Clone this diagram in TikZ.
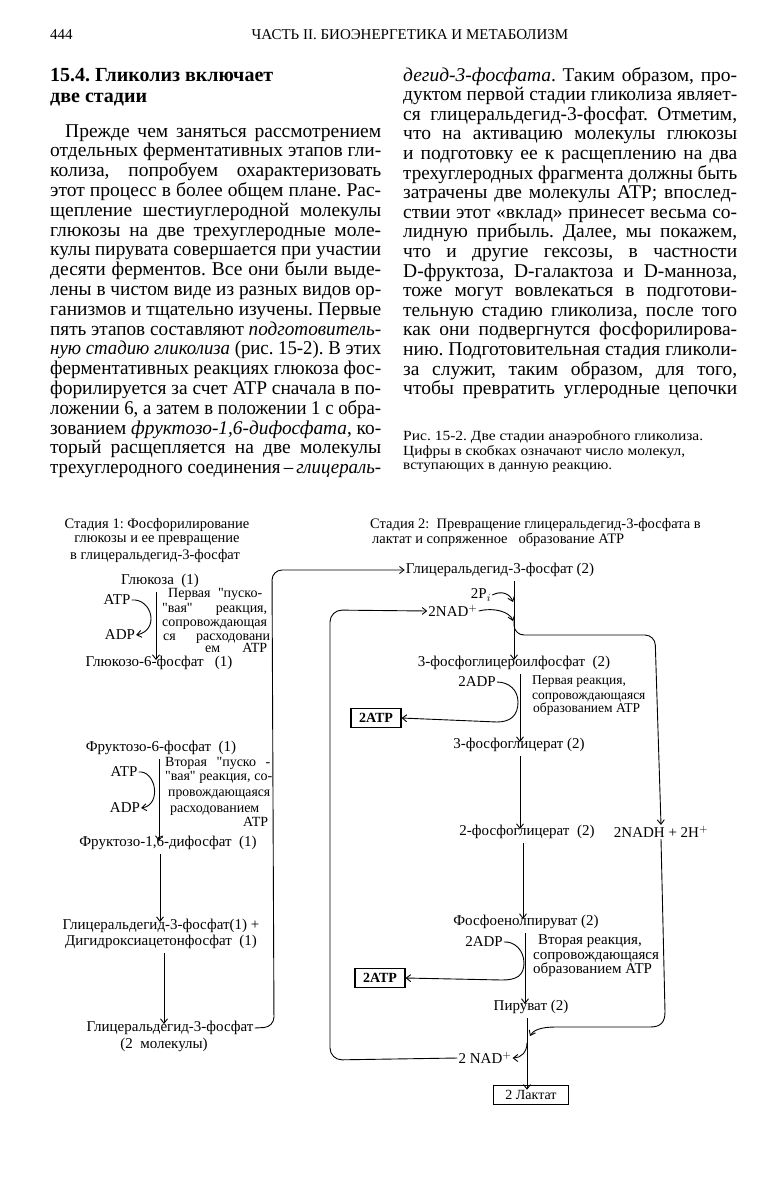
\documentclass[tikz,border=0pt]{standalone}
\usepackage{fontspec}
\setmainfont{Liberation Serif}
\usepackage{graphicx}
\usetikzlibrary{arrows.meta}
\frenchspacing
\newlength\jlw
\newcommand\jline[2]{\settowidth\jlw{#2}\ifdim\jlw>#1\relax\resizebox{#1}{\height}{#2}\else\makebox[#1][s]{#2}\fi}
\newcommand\q{\textquotedbl}
\begin{document}
\begin{tikzpicture}[x=1pt,y=-1pt,
  body/.style={anchor=base west,inner sep=0pt,font=\fontsize{19.5}{20}\selectfont},
  hdr/.style={anchor=base,inner sep=0pt,font=\fontsize{15}{16}\selectfont},
  head/.style={anchor=base west,inner sep=0pt,font=\fontsize{20}{21}\selectfont\bfseries},
  captext/.style={anchor=base west,inner sep=0pt,font=\fontsize{14}{16}\selectfont},
  ttl/.style={inner sep=0pt,font=\fontsize{14.5}{15}\selectfont},
  lbl/.style={inner sep=1pt,font=\fontsize{15}{15}\selectfont},
  nt/.style={anchor=base west,inner sep=0pt,font=\fontsize{14}{14}\selectfont},
  nts/.style={anchor=base west,inner sep=0pt,font=\fontsize{13.5}{14}\selectfont},
  ntb/.style={anchor=base west,inner sep=0pt,font=\fontsize{15}{14}\selectfont},
  bx/.style={draw,line width=1.1pt,inner xsep=8pt,inner ysep=5pt,font=\fontsize{14}{14}\selectfont\bfseries},
  arr/.style={-{Straight Barb[length=4.5pt,width=7pt]},line width=0.9pt},
  varr/.style={arr,shorten <=3pt}]
\fill[white] (0,0) rectangle (780,1200);
\useasboundingbox (0,0) rectangle (780,1200);
% header
\node[hdr,anchor=base west] (pg) at (50,39) {444};
\node[hdr] (run) at (410,39) {ЧАСТЬ II. БИОЭНЕРГЕТИКА И МЕТАБОЛИЗМ};
% heading
\node[head] (h1) at (50,81) {15.4. Гликолиз включает};
\node[head] (h2) at (50,102) {две стадии};
% left column
\node[body] (L1) at (65,137) {\jline{316pt}{Прежде чем заняться рассмотрением}};
\foreach \t [count=\i from 2] in {
 {отдельных ферментативных этапов гли-},
 {колиза, попробуем охарактеризовать},
 {этот процесс в более общем плане. Рас-},
 {щепление шестиуглеродной молекулы},
 {глюкозы на две трехуглеродные моле-},
 {кулы пирувата совершается при участии},
 {десяти ферментов. Все они были выде-},
 {лены в чистом виде из разных видов ор-},
 {ганизмов и тщательно изучены. Первые},
 {пять этапов составляют \textit{подготовитель-}},
 {\textit{ную стадию гликолиза} (рис. 15-2). В этих},
 {ферментативных реакциях глюкоза фос-},
 {форилируется за счет ATP сначала в по-},
 {ложении 6, а затем в положении 1 с обра-},
 {зованием \textit{фруктозо-1,6-дифосфата}, ко-},
 {торый расщепляется на две молекулы},
 {трехуглеродного соединения\,–\,\textit{глицераль-}}}
 \node[body] (L\i) at (50,{137+19.8*(\i-1)}) {\jline{331pt}{\t}};
% right column
\foreach \t [count=\i] in {
 {\textit{дегид-3-фосфата}. Таким образом, про-},
 {дуктом первой стадии гликолиза являет-},
 {ся глицеральдегид-3-фосфат. Отметим,},
 {что на активацию молекулы глюкозы},
 {и подготовку ее к расщеплению на два},
 {трехуглеродных фрагмента должны быть},
 {затрачены две молекулы ATP; впослед-},
 {ствии этот «вклад» принесет весьма со-},
 {лидную прибыль. Далее, мы покажем,},
 {что и другие гексозы, в частности},
 {D-фруктоза, D-галактоза и D-манноза,},
 {тоже могут вовлекаться в подготови-},
 {тельную стадию гликолиза, после того},
 {как они подвергнутся фосфорилирова-},
 {нию. Подготовительная стадия гликоли-},
 {за служит, таким образом, для того,},
 {чтобы превратить углеродные цепочки}}
 \node[body] (R\i) at (403,{81+19.6*(\i-1)}) {\jline{334pt}{\t}};
% caption
\node[captext] (c1) at (403,440) {\resizebox{300pt}{\height}{Рис. 15-2. Две стадии анаэробного гликолиза.}};
\node[captext] (c2) at (403,455) {\resizebox{282pt}{\height}{Цифры в скобках означают число молекул,}};
\node[captext] (c3) at (403,469) {\resizebox{209pt}{\height}{вступающих в данную реакцию.}};
% ---------- diagram: stage 1
\node[ttl] (s1a) at (157,525) {Стадия 1: Фосфорилирование};
\node[ttl] (s1b) at (157,541) {глюкозы и ее превращение};
\node[ttl] (s1c) at (155,556) {в глицеральдегид-3-фосфат};
\node[lbl] (g1) at (160,581) {Глюкоза\ \ (1)};
\node[lbl] (atp1) at (117,600) {ATP};
\node[lbl] (adp1) at (120,635) {ADP};
\node[lbl] (g6p) at (159,663) {Глюкозо-6-фосфат\ \ \ (1)};
\node[nt] (n1a) at (168,597) {\jline{94pt}{Первая \q пуско-}};
\node[nt] (n1b) at (162,612) {\jline{105pt}{\q вая\q\ реакция,}};
\node[nt] (n1c) at (162,626) {\jline{108pt}{сопровождающая}};
\node[nt] (n1d) at (163,640) {\jline{107pt}{ся расходовани}};
\node[nt] (n1e) at (205,652) {\jline{62pt}{ем ATP}};
\node[lbl] (f6p) at (161,748) {Фруктозо-6-фосфат\ \ (1)};
\node[lbl] (atp2) at (124,772) {ATP};
\node[lbl] (adp2) at (125,808) {ADP};
\node[nt] (n2a) at (165,766) {\jline{105pt}{Вторая \q пуско -}};
\node[nt] (n2b) at (165,780) {\jline{107pt}{\q вая\q\ реакция, со-}};
\node[nt] (n2c) at (168,796) {\jline{102pt}{провождающаяся}};
\node[nt] (n2d) at (170,812) {\jline{92pt}{расходованием}};
\node[nt] (n2e) at (243,826) {ATP};
\node[lbl] (f16) at (168,843) {Фруктозо-1,6-дифосфат\ \ (1)};
\node[lbl,align=center] (gd) at (161,934) {Глицеральдегид-3-фосфат(1) +\\[1pt]Дигидроксиацетонфосфат\ \ (1)};
\node[lbl] (g3p) at (170,1028) {Глицеральдегид-3-фосфат};
\node[lbl] (g3pb) at (164,1045) {(2\ \ молекулы)};
\draw[varr] ([xshift=-4pt]g1.south) -- ([xshift=-4pt,yshift=-5pt]g1.south |- g6p.north);
\draw[arr] (atp1.east) .. controls (152,598) and (160,630) .. (adp1.east);
\draw[varr] ([xshift=-2pt]f6p.south) -- ([xshift=-2pt,yshift=-6pt]f6p.south |- f16.north);
\draw[arr] (atp2.east) .. controls (156,770) and (162,805) .. (adp2.east);
\draw[varr] ([xshift=-8pt]f16.south) -- ([xshift=-8pt,yshift=-4pt]f16.south |- gd.north);
\draw[varr] ([xshift=3pt]gd.south) -- ([xshift=3pt,yshift=-4pt]gd.south |- g3p.north);
% ---------- stage 2
\node[ttl,anchor=west] (s2a) at (370,525) {Стадия 2:\ \ Превращение глицеральдегид-3-фосфата в};
\node[ttl,anchor=west] (s2b) at (372,540) {лактат и сопряженное\ \ \ образование ATP};
\node[lbl] (gly2) at (500,570) {Глицеральдегид-3-фосфат (2)};
\node[lbl] (pin) at (481,595) {2P$_i$};
\node[lbl] (nadA) at (453,611) {2NAD$^+$};
\node[lbl] (pgp) at (514,663) {3-фосфоглицероилфосфат\ \ (2)};
\node[lbl] (adp3) at (477,682) {2ADP};
\node[nts] (n3a) at (532,684) {Первая реакция,};
\node[nts] (n3b) at (532,699) {сопровождающаяся};
\node[nts] (n3c) at (533,712) {образованием ATP};
\node[bx] (atp3) at (376,718) {2ATP};
\node[lbl] (pg3) at (519,745) {3-фосфоглицерат (2)};
\node[lbl] (pg2) at (527,832) {2-фосфоглицерат\ \ (2)};
\node[lbl] (nadh) at (661,832) {2NADH\ +\ 2H$^+$};
\node[lbl] (pep) at (526,922) {Фосфоенолпируват (2)};
\node[lbl] (adp4) at (484,942) {2ADP};
\node[ntb] (n4a) at (538,944) {Вторая реакция,};
\node[ntb] (n4b) at (533,959) {сопровождающаяся};
\node[ntb] (n4c) at (533,973) {образованием ATP};
\node[bx] (atp4) at (380,978) {2ATP};
\node[lbl] (pyr) at (531,1007) {Пируват (2)};
\node[lbl] (nadB) at (485,1058) {2 NAD$^+$};
\node[bx,font=\fontsize{14}{14}\selectfont,inner xsep=12pt] (lac) at (531,1095) {2 Лактат};
% loops
\draw[arr,rounded corners=10pt] (g3p.east) -- (274,1027) -- (272,570) -- (gly2.west);
\draw[arr,rounded corners=12pt] (nadB.west) -- (330,1060) -- (330,610) -- (nadA.west);
% main stage 2 flow
\draw[varr] ([xshift=14pt]gly2.south) -- ([xshift=14pt,yshift=-5pt]gly2.south |- pgp.north);
\draw[arr] (pin.east) .. controls (502,590) and (510,594) .. (513,602);
\draw[arr] (nadA.east) .. controls (494,607) and (510,612) .. (513,621);
\draw[arr,rounded corners=10pt] (514,618) |- (655,635) -- (nadh.north);
\draw[varr] ([xshift=6pt]pgp.south) -- ([xshift=6pt,yshift=-5pt]pgp.south |- pg3.north);
\draw[arr] (adp3.east) .. controls (509,682) and (518,690) .. (518,702) .. controls (518,715) and (511,722) .. (497,722) -- (atp3.east);
\draw[varr] ([xshift=1pt]pg3.south) -- ([xshift=1pt,yshift=-5pt]pg3.south |- pg2.north);
\draw[varr] ([xshift=-4pt]pg2.south) -- ([xshift=-4pt,yshift=-5pt]pg2.south |- pep.north);
\draw[varr] ([xshift=-1pt]pep.south) -- ([xshift=-1pt,yshift=-5pt]pep.south |- pyr.north);
\draw[arr] (adp4.east) .. controls (514,941) and (524,950) .. (524,963) .. controls (524,976) and (516,980) .. (502,980) -- (atp4.east);
\draw[varr] ([xshift=-4pt]pyr.south) -- ([xshift=-4pt,yshift=-5pt]pyr.south |- lac.north);
\draw[arr] (527,1043) .. controls (527,1052) and (521,1058) .. (nadB.east);
\draw[arr] (nadh.south) -- (665,1012) .. controls (665,1023) and (660,1027) .. (650,1027) -- (555,1027) .. controls (542,1027) and (533,1030) .. (530,1036);
\end{tikzpicture}
\end{document}
